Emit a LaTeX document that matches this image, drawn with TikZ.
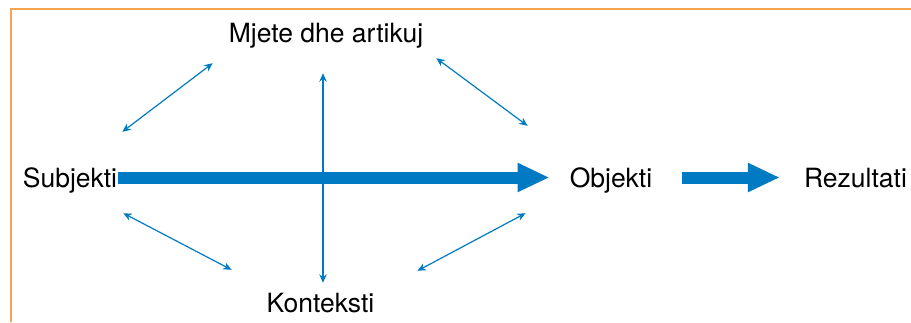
\documentclass[tikz,border=0pt]{standalone}
\usepackage{fontspec}
\setmainfont{TeX Gyre Heros}
\usetikzlibrary{arrows.meta,positioning}
\definecolor{diagblue}{RGB}{0,122,194}
\definecolor{frameorange}{RGB}{247,163,80}
\tikzset{
  word/.style    = {inner sep=0pt, text height=19pt, text depth=0pt,
                    font=\fontsize{26.5}{30}\selectfont},
  bigarrow/.style = {draw=diagblue, line width=12pt,
                    -{Triangle[length=32pt,width=27pt]}},
  twoway/.style  = {draw=diagblue, line width=1.2pt,
                    {Stealth[length=8.5pt,width=7.5pt]}-{Stealth[length=8.5pt,width=7.5pt]}}
}

\begin{document}
\begin{tikzpicture}[x=1pt,y=-1pt]
\useasboundingbox (0,0) rectangle (911,322);

% frame, open to the right and below
\draw[frameorange, line width=2pt] (10.5,322) -- (10.5,9) -- (911,9);

% the five words
\node[word] (subj)  at (70,177.5)  {Subjekti};
\node[word] (mjete) at (326,32.5)  {Mjete dhe artikuj};
\node[word] (obj)   at (611,177.5) {Objekti};
\node[word] (rez)   at (855.5,177.5) {Rezultati};
\node[word] (kont)  at (320.5,302.5) {Konteksti};

% main flow
\draw[bigarrow, shorten <=1pt, shorten >=20pt] (subj) -- (obj);
\draw[bigarrow, shorten <=30pt, shorten >=24pt] (obj) -- (rez);

% mediating links
\draw[twoway] ([shift={(5,-36)}]subj.north east) -- ([shift={(-16,21)}]mjete.south west);
\draw[twoway] ([shift={(13,16)}]mjete.south east) -- ([shift={(-42,-42)}]obj.north west);
\draw[twoway] ([shift={(-3,31)}]mjete.south) -- ([shift={(2.5,-10)}]kont.north);
\draw[twoway] ([shift={(6,26)}]subj.south east) -- ([shift={(-35,-23)}]kont.north west);
\draw[twoway] ([shift={(-44,26)}]obj.south west) -- ([shift={(43,-22)}]kont.north east);

\end{tikzpicture}
\end{document}
